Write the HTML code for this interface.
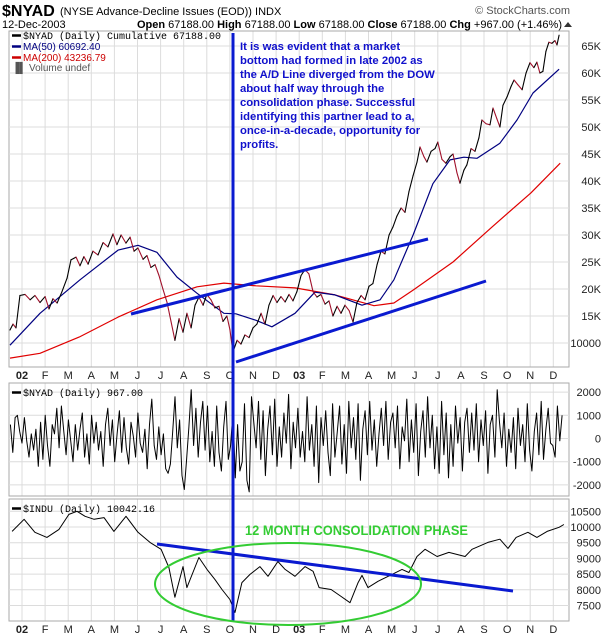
<!DOCTYPE html>
<html><head><meta charset="utf-8"><style>
html,body{margin:0;padding:0;background:#fff;}
svg{display:block;font-family:"Liberation Sans",Arial,sans-serif;}
</style></head><body>
<svg id="c" width="611" height="636" viewBox="0 0 611 636" xmlns="http://www.w3.org/2000/svg">
<g>
<text x="2" y="16" font-size="16" font-weight="bold">$NYAD</text>
<text x="60" y="15" font-size="11">(NYSE Advance-Decline Issues (EOD))  INDX</text>
<text x="570" y="14" font-size="11" fill="#555" text-anchor="end">© StockCharts.com</text>
<text x="2" y="28" font-size="11">12-Dec-2003</text>
<text x="562" y="28" font-size="11" text-anchor="end"><tspan font-weight="bold">Open</tspan> 67188.00 <tspan font-weight="bold">High</tspan> 67188.00 <tspan font-weight="bold">Low</tspan> 67188.00 <tspan font-weight="bold">Close</tspan> 67188.00 <tspan font-weight="bold">Chg</tspan> +967.00 (+1.46%)</text>
<path d="M564 27 L568 22 L572 27 Z" fill="#333"/>
</g>
<g id="grid"></g>
<g id="marks"></g>
<g id="ann"></g>
</svg>
<script>
// ---------- DATA ----------
// time in months since 1-Jan-2002
const adTimes=[-0.52,-0.39,-0.26,-0.09,0.13,0.35,0.56,0.78,1.0,1.17,1.34,1.52,1.73,1.95,2.12,2.34,2.51,2.68,2.86,3.07,3.29,3.51,3.72,3.94,4.11,4.29,4.5,4.68,4.85,5.02,5.24,5.41,5.58,5.76,5.93,6.1,6.28,6.45,6.62,6.8,6.97,7.14,7.32,7.49,7.66,7.84,8.0,8.18,8.35,8.53,8.7,8.87,9.0,9.13,9.31,9.48,9.65,9.83,10.0,10.17,10.35,10.52,10.69,10.87,11.04,11.21,11.39,11.56,11.73,11.9,12.08,12.25,12.42,12.6,12.77,12.94,13.12,13.29,13.46,13.64,13.81,13.98,14.16,14.33,14.5,14.68,14.85,15.02,15.19,15.37,15.54,15.71,15.89,16.06,16.23,16.41,16.58,16.75,16.93,17.1,17.23,17.4,17.53,17.71,17.88,18.0,18.18,18.35,18.53,18.66,18.83,18.96,19.13,19.26,19.44,19.61,19.78,19.91,20.09,20.26,20.39,20.56,20.69,20.82,21.0,21.17,21.3,21.47,21.65,21.82,21.99,22.16,22.29,22.42,22.55,22.68,22.81,22.94,23.07,23.16,23.25];
const adValues=[12.4,13.5,12.8,18.8,19,18,18.8,17.5,18.6,16.3,18.2,17.4,19.5,22,25.4,25.9,24.3,26,24.6,27,26.3,28.6,27.8,30.2,28.2,30,28.5,29.6,27,27.6,25.5,26.2,24,24.5,22.5,20,17.5,14,10.5,14.5,12,15.5,12.8,17,18.5,17,19,18,16.5,16.8,14,15,12.5,8.3,10.5,9.8,11.5,11,12.8,13.5,15.5,13.5,17,18.8,17.5,18.6,17.6,19,17.8,19.5,22.5,23.6,22.8,19.5,18.5,19,17.2,17.8,15,16.8,15.5,17,16,13.9,17.5,18.8,18,20.5,21,24.5,27,26.5,30,31.5,33.5,35,34.2,38,41,43.5,46.3,44.5,43.5,45.5,46,47.2,44,43.3,44.5,45,41.5,39.6,42,43,46,45.5,48,51.3,50.6,50.4,53.5,51.5,50,54,55.6,57.5,58.7,57.8,56.9,60,61.9,61,62,60,60.3,64,65.7,65.5,66,65.2,67];
const ma50Times=[-0.52,0.78,2.51,4.16,5.02,5.84,6.71,7.58,8.74,9.26,10.13,10.82,11.82,12.68,13.55,14.72,15.5,16.1,16.93,17.79,18.53,19.13,19.7,20.69,21.43,22.12,23.25];
const ma50Values=[9.6,15.5,21.7,27.2,28.1,26.8,22.2,19.2,15.5,15.4,14.2,13.0,15.5,19.4,18.9,17.0,18.0,21.7,30,39.5,43.9,44.4,44.2,47,51.3,56.3,60.7];
const ma200Times=[-0.52,0.78,2.47,4.16,5.84,7.58,8.74,10.13,11.82,13.55,15.24,16.1,16.93,18.66,20.35,22.03,23.3];
const ma200Values=[7.2,8.1,11.1,14.8,18.0,20.4,21.1,20.6,20.2,18.9,16.9,17.4,19.8,25.0,31.5,37.8,43.3];
// daily A/D (hundreds), evenly spaced trading days
const dailyValues=[6,-6,9,10,3,-2,9,-1,-8,2,-5,4,-12,7,-9,10,-3,-12,6,2,13,-4,14,3,-7,8,-1,-10,6,-5,4,11,-8,2,-11,10,-2,7,-5,3,
-12,6,13,-3,8,-10,2,12,-6,9,-4,-11,7,1,-8,11,-2,-6,4,-13,6,17,-3,-9,5,-7,2,-13,-15,-11,3,18,-4,8,-16,-22,-9,5,21,-3,
13,-8,7,16,-5,14,-10,3,-12,14,-6,-14,5,16,-9,-3,12,-17,6,-14,-10,15,-18,-23,18,7,-4,16,-9,12,-16,4,14,-7,17,-12,5,-8,11,-2,
19,-13,7,-4,13,-8,3,-10,18,-5,6,-12,14,-19,9,-3,12,-6,-16,15,-8,3,14,-11,6,-15,16,-4,9,-9,15,-18,4,12,-7,16,-5,8,-12,2,
13,-3,16,-9,7,11,-4,14,-13,5,-1,17,-10,8,-6,15,-16,3,12,-8,18,-4,10,-13,5,-15,16,-7,11,-17,6,-12,14,-2,9,-14,7,13,-6,11,
-5,15,-10,8,-3,12,-15,6,10,-8,21,7,-4,11,-12,4,-6,9,-13,13,-3,6,-10,15,-5,-14,3,11,-7,16,-9,4,13,-2,-3,-8,14,-1,10];
const induTimes=[-0.43,0.09,0.56,1.08,1.6,2.03,2.38,2.73,3.12,3.55,3.98,4.5,5.02,5.54,6.02,6.36,6.62,6.97,7.14,7.66,8.01,8.35,8.66,9.0,9.22,9.52,9.87,10.3,10.65,11.08,11.39,11.82,12.25,12.6,12.86,13.38,13.81,14.2,14.55,14.72,14.98,15.41,15.93,16.45,16.75,17.1,17.45,17.97,18.48,19.18,19.48,20.17,20.69,21.04,21.39,21.9,22.29,22.73,23.25,23.46];
const induValues=[9860,10245,9830,9670,9925,10400,10500,10340,10245,10300,9860,10340,9830,9510,9290,8710,7760,8740,8070,9030,8650,8330,8010,7690,7280,8230,8490,8740,8430,8900,8650,8430,8740,8590,8070,8010,7790,7590,8230,8460,8070,8270,8460,8650,8550,9060,9290,9060,9190,9060,9290,9510,9610,9320,9670,9830,9670,9860,9990,10080];
const monthLabels=["02","F","M","A","M","J","J","A","S","O","N","D","03","F","M","A","M","J","J","A","S","O","N","D"];
const adTicks=[10,15,20,25,30,35,40,45,50,55,60,65];
const dailyTicks=[2000,1000,0,-1000,-2000];
const induTicks=[7500,8000,8500,9000,9500,10000,10500];

// ---------- AXES ----------
const NS="http://www.w3.org/2000/svg";
const X0=9,X1=569;
const xT=t=>22+t*23.1;
const yAD=v=>343-(v-10)*27/5;
const yDaily=v=>438.5-v*23.2/1000;
const yIndu=v=>527-(v-10000)*15.7/500;
const dailyT=i=>-0.5+i*(23.88/(dailyValues.length-1));
const P1=[31,367],P2=[383,496],P3=[499,621];
function el(tag,attrs,parent){const e=document.createElementNS(NS,tag);for(const k in attrs)e.setAttribute(k,attrs[k]);parent.appendChild(e);return e;}
const grid=document.getElementById('grid'),marks=document.getElementById('marks'),ann=document.getElementById('ann');

[P1,P2,P3].forEach((p,pi)=>{
  for(let m=0;m<24;m++){
    const x=xT(m);
    const g=el('line',{x1:x,x2:x,y1:p[0],y2:p[1],stroke:'#dcdcdc','stroke-width':1},grid);
    
    
  }
  const r=el('rect',{x:X0,y:p[0],width:X1-X0,height:p[1]-p[0],fill:'none',stroke:'#aaa','stroke-width':1},grid);
  
  
});
function hTicks(ticks,yf,fmt,name){
  ticks.forEach(v=>{
    const y=yf(v);
    const l=el('line',{x1:X0,x2:X1,y1:y,y2:y,stroke:'#dcdcdc','stroke-width':1},grid);
    
    
    const t=el('text',{x:601,y:y+4,'font-size':11,'text-anchor':'end',fill:'#222'},grid);
    
    
    t.textContent=fmt(v);
  });
}
hTicks(adTicks,yAD,v=>v===10?'10000':v+'K','ad-y-axis');
hTicks(dailyTicks,yDaily,v=>String(v),'daily-y-axis');
hTicks(induTicks,yIndu,v=>String(v),'indu-y-axis');
[375,629].forEach((yy,k)=>{
  monthLabels.forEach((s,m)=>{
    const t=el('text',{x:xT(m),y:yy+4,'font-size':11,'text-anchor':'middle','font-weight':(s.length===2?'bold':'normal'),fill:'#222'},grid);
    
    
    t.textContent=s;
  });
});

// ---------- SERIES ----------
function poly(ts,vs,yf,color,w,name){
  const pts=ts.map((t,i)=>xT(t).toFixed(1)+','+yf(vs[i]).toFixed(1)).join(' ');
  const p=el('polyline',{points:pts,fill:'none',stroke:color,'stroke-width':w,'stroke-linejoin':'round'},marks);
  
  
}
poly(ma200Times,ma200Values,yAD,'#e00000',1.2,'ma200-line');
poly(ma50Times,ma50Values,yAD,'#000080',1.2,'ma50-line');
for(let i=1;i<adValues.length;i++){
  const s=el('line',{x1:xT(adTimes[i-1]),y1:yAD(adValues[i-1]),x2:xT(adTimes[i]),y2:yAD(adValues[i]),stroke:adValues[i]<adValues[i-1]?'#a0102a':'#000','stroke-width':1.1,'stroke-linecap':'round'},marks);
  
  
}
poly(dailyValues.map((v,i)=>dailyT(i)),dailyValues.map(v=>v*100),yDaily,'#000',1,'daily-ad-line');
poly(induTimes,induValues,yIndu,'#000',1,'indu-line');

// ---------- LEGENDS ----------
function legend(x,y,color,txt,mono,name,fs){
  const l=el('line',{x1:x,x2:x+9,y1:y-3.5,y2:y-3.5,stroke:color,'stroke-width':2.5},ann);
  
  
  const t=el('text',{x:x+11,y:y,'font-size':fs||10,fill:color,'font-family':mono?'"Liberation Mono",monospace':'"Liberation Sans",sans-serif'},ann);
  
  
  t.textContent=txt;
}
legend(12,39,'#000','$NYAD (Daily) Cumulative 67188.00',true,'legend-nyad-cumulative');
legend(12,50,'#000080','MA(50) 60692.40',false,'legend-ma50');
legend(12,61,'#cc0000','MA(200) 43236.79',false,'legend-ma200');
legend(12,396,'#000','$NYAD (Daily) 967.00',true,'legend-nyad-daily');
legend(12,512,'#000','$INDU (Daily) 10042.16',true,'legend-indu');
const vb=el('text',{x:12,y:71,'font-size':10,fill:'#555'},ann);


vb.textContent='\u2590\u258c Volume undef';

// ---------- ANNOTATIONS ----------
function ln(x1,y1,x2,y2,c,w,name){const l=el('line',{x1,y1,x2,y2,stroke:c,'stroke-width':w},ann);}
ln(131,314,428,239,'#0a1ad0',3,'upper-trendline');
ln(236,362,486,281,'#0a1ad0',3,'lower-trendline');
ln(157,544,513,591,'#0a1ad0',3,'dow-trendline');
ln(233,33,233,621,'#0a1ad0',3,'divergence-marker-line');
const e=el('ellipse',{cx:288,cy:584,rx:133,ry:41,fill:'none',stroke:'#33cc33','stroke-width':2},ann);


const ct=el('text',{x:245,y:535,'font-size':14,'font-weight':'bold',fill:'#33cc33',textLength:223,lengthAdjust:'spacingAndGlyphs'},ann);


ct.textContent='12 MONTH CONSOLIDATION PHASE';
const note=["It is was evident that a market","bottom had formed in late 2002 as","the A/D Line diverged from the DOW","about half way through the","consolidation phase.  Successful","identifying this partner lead to a,","once-in-a-decade, opportunity for","profits."];
note.forEach((s,i)=>{
  const t=el('text',{x:240,y:50+i*14,'font-size':11.3,'font-weight':'bold',fill:'#1010cc'},ann);
  
  
  t.setAttribute('xml:space','preserve');
  t.textContent=s;
});
</script>
</body></html>
